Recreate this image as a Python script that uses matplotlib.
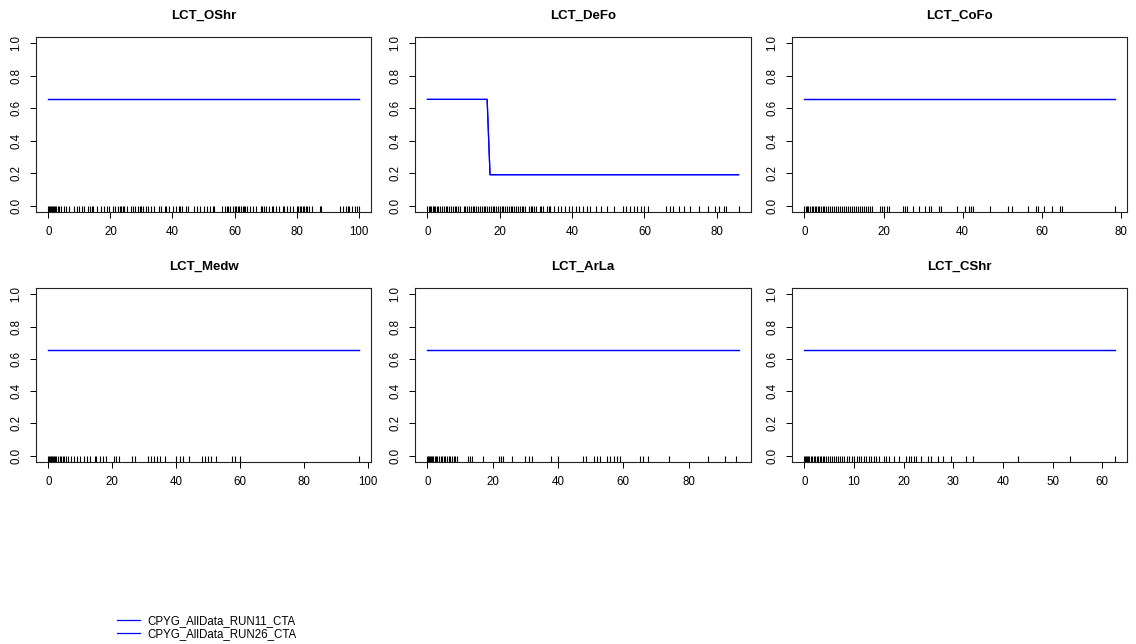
import matplotlib
matplotlib.use("Agg")
import matplotlib.pyplot as plt
from matplotlib.ticker import FormatStrFormatter

plt.rcParams['font.family'] = ['Liberation Sans', 'DejaVu Sans']

titles = ['LCT_OShr', 'LCT_DeFo', 'LCT_CoFo', 'LCT_Medw', 'LCT_ArLa', 'LCT_CShr']
series_names = ['CPYG_AllData_RUN11_CTA', 'CPYG_AllData_RUN26_CTA']

# response curves (x, y) per panel, both runs identical
curve_x = [
    [0, 100],
    [0, 16.5, 17.3, 86],
    [0, 78.4],
    [0, 97],
    [0, 95.3],
    [0, 62.5],
]
curve_y = [
    [0.655, 0.655],
    [0.655, 0.655, 0.19, 0.19],
    [0.655, 0.655],
    [0.655, 0.655],
    [0.655, 0.655],
    [0.655, 0.655],
]
x_ticks = [
    [0, 20, 40, 60, 80, 100],
    [0, 20, 40, 60, 80],
    [0, 20, 40, 60, 80],
    [0, 20, 40, 60, 80, 100],
    [0, 20, 40, 60, 80],
    [0, 10, 20, 30, 40, 50, 60],
]

rug_oshr = [0, 0.3, 0.6, 0.9, 1.2, 1.5, 1.8, 2.1, 2.5, 3, 3.5, 4.2, 5, 5.7, 6.5, 8.3, 9.2, 10,
            10.8, 11.5, 12.7, 13.5, 14, 14.5, 15.8, 17, 18, 19, 19.5, 20.8, 21.5, 22.3, 23,
            23.5, 24, 24.5, 25.2, 26.5, 27.3, 28, 29, 29.5, 30, 30.6, 31.5, 32, 33, 34, 35.5,
            36.2, 37.5, 38, 39, 40.3, 41, 42, 42.5, 43.2, 44.5, 45, 47, 48, 49, 50, 51, 52, 53,
            53.5, 56, 56.8, 57.5, 58, 58.7, 59.5, 60, 60.5, 61, 61.5, 62, 62.6, 63, 63.5, 64,
            65, 66, 67, 68.5, 69, 69.5, 70, 71, 72, 72.5, 73.5, 74.5, 75.5, 76, 77, 78, 79, 80,
            80.5, 81, 81.5, 82, 82.5, 83, 83.5, 84, 85, 87.5, 88, 94, 95, 96, 96.5, 97, 98, 99,
            99.5, 100]
rug_defo = [0, 0.3, 0.6, 1, 1.4, 1.8, 2.2, 2.6, 3, 3.5, 4, 4.5, 5, 5.5, 6, 6.5, 7, 7.5, 8, 8.5,
            9, 10, 10.5, 11, 11.5, 12, 12.5, 13, 13.5, 14, 14.5, 15, 15.5, 16, 16.5, 17, 17.5,
            18, 18.5, 19, 19.5, 20, 20.5, 21, 21.5, 22, 22.5, 23, 23.5, 24, 24.5, 25, 25.5, 26,
            26.5, 27, 28, 28.5, 29, 29.5, 30, 31, 31.5, 32, 33, 33.5, 34, 35, 36, 37, 38, 39,
            40, 41, 42, 43, 44, 45, 46.5, 48, 49.5, 51.5, 54, 55, 56, 57, 58, 59, 60, 61, 66,
            67, 68, 69.5, 71, 72.5, 75, 77.5, 79.5, 80.5, 82, 82.5, 86]
rug_cofo = [0, 0.3, 0.6, 1, 1.4, 1.8, 2.2, 2.6, 3, 3.4, 3.8, 4.2, 4.6, 5, 5.5, 6, 6.5, 7, 7.5,
            8, 8.5, 9, 9.5, 10, 10.5, 11, 11.5, 12, 12.5, 13, 13.5, 14, 14.5, 15, 15.5, 16,
            16.5, 17, 19, 19.5, 20, 21, 21.5, 25, 25.5, 26, 27.5, 29, 30.5, 31.5, 32, 34, 34.5,
            38.5, 40.5, 41.5, 42, 42.5, 47, 51.5, 52.5, 56.5, 58.5, 59, 60.5, 62.5, 64.5, 65,
            78.4]
rug_medw = [0, 0.3, 0.6, 0.9, 1.2, 1.5, 1.8, 2.1, 2.5, 3, 3.5, 4, 4.5, 5, 5.5, 6, 7, 8, 9, 10,
            11, 12, 13, 14.5, 15, 16, 17, 18, 20.5, 21, 22, 26, 27, 31, 32, 33, 34, 35, 36.5,
            40, 41, 42, 44, 48, 49, 50, 51, 52.5, 57.5, 58.5, 60, 97]
rug_arla = [0, 0.3, 0.6, 0.9, 1.2, 1.5, 1.8, 2.2, 2.6, 3, 3.5, 4, 4.5, 5, 5.5, 6, 6.5, 7, 7.5,
            8, 8.5, 9, 12.5, 13, 13.5, 17, 22, 22.5, 23, 26, 30, 31, 32, 38, 40, 47.5, 48.5, 51,
            52, 53, 55, 56, 57, 58, 59, 65, 66, 67.5, 74, 86, 91, 94.5]
rug_cshr = [0, 0.2, 0.4, 0.6, 0.8, 1, 1.3, 1.6, 1.9, 2.2, 2.5, 2.8, 3.1, 3.4, 3.7, 4, 4.4, 4.8,
            5.2, 5.6, 6, 6.4, 6.8, 7.2, 7.6, 8, 8.5, 9, 9.5, 10, 10.5, 11, 11.5, 12, 12.5, 13,
            13.5, 14, 14.5, 15, 16, 16.5, 17, 18, 19, 20.5, 21, 21.5, 22, 22.5, 23.5, 25, 25.5,
            27, 28, 29.5, 32.5, 34, 43, 53.5, 62.5]
rugs = [rug_oshr, rug_defo, rug_cofo, rug_medw, rug_arla, rug_cshr]

W, H = 1136, 644
fig = plt.figure(figsize=(W / 100, H / 100), dpi=100)

cols = [(36, 371), (415, 751), (792, 1127)]
rows = [(37, 212), (288, 462)]

handles = []
for i in range(6):
    r, c = divmod(i, 3)
    x0, x1 = cols[c]
    y0, y1 = rows[r]
    ax = fig.add_axes([x0 / W, 1 - y1 / H, (x1 - x0) / W, (y1 - y0) / H])
    xmax = max(curve_x[i])
    pad = 0.04 * xmax
    ax.set_xlim(-pad, xmax + pad)
    ax.set_ylim(-0.04, 1.04)
    for k, name in enumerate(series_names):
        ln, = ax.plot(curve_x[i], curve_y[i], color='blue', lw=0.9, label=name)
        if i == 0:
            handles.append(ln)
    ax.vlines(rugs[i], 0, 0.035, transform=ax.get_xaxis_transform(), color='black', lw=0.8)
    ax.set_title(titles[i], fontsize=9.5, fontweight='bold', pad=13)
    ax.set_xticks(x_ticks[i])
    ax.set_yticks([0, 0.2, 0.4, 0.6, 0.8, 1.0])
    ax.yaxis.set_major_formatter(FormatStrFormatter('%.1f'))
    ax.tick_params(axis='both', labelsize=8.3, length=4.5, width=0.7, pad=5.5)
    for lab in ax.get_yticklabels():
        lab.set_rotation(90)
        lab.set_va('center')
    for s in ax.spines.values():
        s.set_linewidth(0.8)
        s.set_color('#222222')

fig.legend(handles, series_names, loc='upper left', bbox_to_anchor=(112 / W, 1 - 610 / H),
           frameon=False, fontsize=8.3, handlelength=2.0, handletextpad=0.7,
           labelspacing=0.1, borderaxespad=0)

fig.savefig('out.png', dpi=100)
